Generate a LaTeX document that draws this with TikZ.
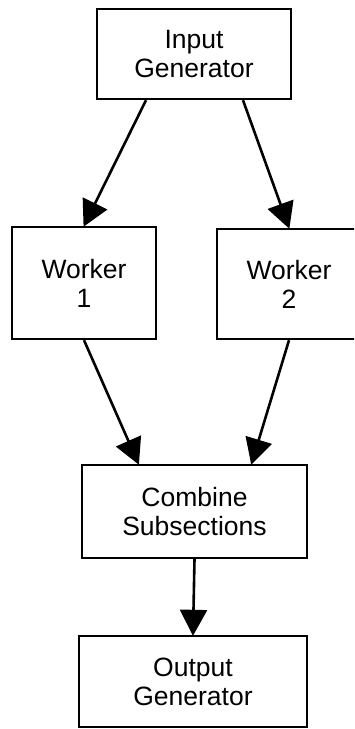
\documentclass[tikz,border=0pt]{standalone}
\usepackage{fontspec}
\setmainfont{Liberation Sans}
\usetikzlibrary{arrows.meta}
\begin{document}
\begin{tikzpicture}[x=1pt,y=-1pt,
  box/.style={draw=black, line width=2.4pt, fill=white, align=center, inner sep=0pt,
    font=\fontsize{26.5}{29}\selectfont},
  conn/.style={line width=2.6pt, -{Triangle[length=26pt,width=27pt]}, shorten >=-1pt}]
\clip (0,0) rectangle (354,729);
\useasboundingbox (0,0) rectangle (354,729);
\node[box, minimum width=194pt, minimum height=90pt] (in) at (194,54) {Input\\Generator};
\node[box, minimum width=144pt, minimum height=112pt] (w1) at (84,283) {Worker\\1};
\node[box, minimum width=144pt, minimum height=110pt] (w2) at (289,284) {Worker\\2};
\node[box, minimum width=225pt, minimum height=93pt] (comb) at (194.5,511.5) {Combine\\Subsections};
\node[box, minimum width=228pt, minimum height=91pt] (out) at (193,681.5) {Output\\Generator};
\draw[conn] ([xshift=-48pt]in.south) -- (w1.north);
\draw[conn] ([xshift=49pt]in.south) -- (w2.north);
\draw[conn] (w1.south) -- ([xshift=-56pt]comb.north);
\draw[conn] (w2.south) -- ([xshift=57pt]comb.north);
\draw[conn] (comb.south) -- (out.north);
\end{tikzpicture}
\end{document}
